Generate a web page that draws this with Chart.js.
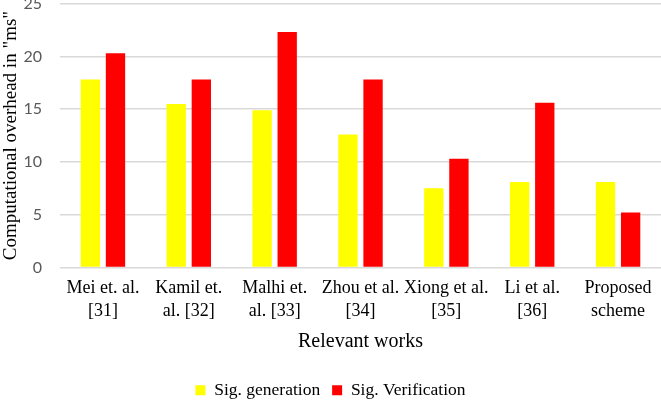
<!DOCTYPE html>
<html>
<head>
<meta charset="utf-8">
<script src="https://cdn.jsdelivr.net/npm/chart.js@4.4.0/dist/chart.umd.min.js"></script>
<style>
html,body{margin:0;padding:0;background:#fff;overflow:hidden;}
#wrap{width:661px;height:400px;position:relative;}
</style>
</head>
<body>
<div id="wrap"><canvas id="c"></canvas></div>
<script>
const categories = [
  ["Mei et. al.", "[31]"],
  ["Kamil et.", "al. [32]"],
  ["Malhi et.", "al. [33]"],
  ["Zhou et al.", "[34]"],
  ["Xiong et al.", "[35]"],
  ["Li et al.", "[36]"],
  ["Proposed", "scheme"]
];
const sigGeneration = [17.8, 15.5, 14.9, 12.6, 7.5, 8.1, 8.1];
const sigVerification = [20.3, 17.8, 22.3, 17.8, 10.3, 15.6, 5.2];
const seriesNames = ["Sig. generation", "Sig. Verification"];
const yTicks = [0, 5, 10, 15, 20, 25];

const serif = '"Liberation Serif", "Times New Roman", serif';

new Chart(document.getElementById('c'), {
  type: 'bar',
  data: {
    labels: categories,
    datasets: [
      { label: seriesNames[0], data: sigGeneration, backgroundColor: '#ffff00', barPercentage: 0.77, categoryPercentage: 0.585 },
      { label: seriesNames[1], data: sigVerification, backgroundColor: '#ff0000', barPercentage: 0.77, categoryPercentage: 0.585 }
    ]
  },
  options: {
    responsive: true,
    maintainAspectRatio: false,
    animation: false,
    layout: { padding: { top: 0, right: 0, left: 0, bottom: -9 } },
    plugins: {
      legend: {
        position: 'bottom',
        labels: {
          boxWidth: 10, boxHeight: 10, padding: 12,
          color: '#000',
          font: { family: serif, size: 17.5 }
        }
      },
      tooltip: { enabled: false }
    },
    scales: {
      x: {
        grid: { display: false },
        border: { display: false },
        ticks: {
          color: '#000', maxRotation: 0, autoSkip: false, padding: 2,
          font: { family: serif, size: 18, lineHeight: 1.25 }
        },
        title: {
          display: true, text: 'Relevant works', color: '#000',
          padding: { top: 7, bottom: 18 },
          font: { family: serif, size: 20, lineHeight: 1.0 }
        }
      },
      y: {
        min: 0, max: 25,
        afterBuildTicks: (axis) => { axis.ticks = yTicks.map(v => ({ value: v })); },
        afterFit: (axis) => { axis.width = 60; },
        grid: { color: '#d9d9d9', lineWidth: 1.5, drawTicks: true, tickLength: 18, tickColor: 'rgba(0,0,0,0)' },
        border: { display: false },
        ticks: {
          color: '#595959', padding: 0,
          font: { family: 'Lato, "Open Sans", sans-serif', size: 16, lineHeight: 0.45 }
        },
        title: {
          display: true, text: 'Computational overhead in "ms"', color: '#000',
          padding: { top: 0, bottom: 0 },
          font: { family: serif, size: 19 }
        }
      }
    }
  }
});
</script>
</body>
</html>
